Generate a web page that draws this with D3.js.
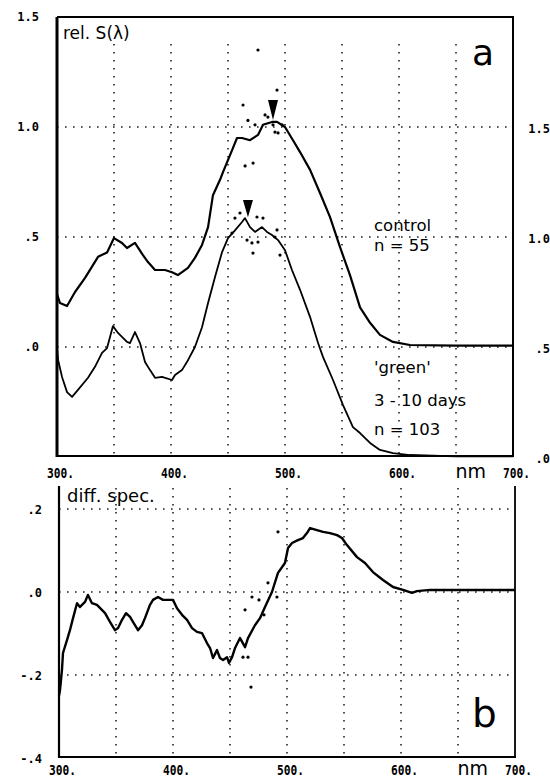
<!DOCTYPE html>
<html>
<head>
<meta charset="utf-8">
<script src="https://cdn.jsdelivr.net/npm/d3@7"></script>
<style>
  html, body { margin: 0; padding: 0; background: #fff; }
  svg { display: block; }
</style>
</head>
<body>
<svg id="chart" width="550" height="778"></svg>
<script>
// ---------------- DATA ----------------
// panel a: control (left axis)
const controlNm = [300,302.6,308.8,315.8,324.6,336,343.9,350,357,361.4,368.4,375.4,379.8,386,394.7,400.9,406,414.9,421,427.2,432.5,436.8,443,445.6,454.4,457.9,462.3,469.3,476.3,480.7,488.6,493,500,507,513.2,522,530.7,539.5,548.2,557,565.8,574.6,583.3,594.7,609.6,650,700];
const controlS  = [0.24,0.20,0.186,0.25,0.314,0.41,0.43,0.495,0.473,0.45,0.473,0.418,0.386,0.35,0.35,0.34,0.327,0.36,0.405,0.464,0.545,0.69,0.76,0.795,0.905,0.95,0.95,0.94,0.964,1.01,1.023,1.023,1.0,0.94,0.886,0.805,0.70,0.59,0.455,0.327,0.18,0.11,0.055,0.023,0.009,0.006,0.006];
// panel a: 'green' (right axis)
const greenNm = [300,301,304.4,308.8,313.2,318.4,327.2,333.3,339.5,343.9,346.5,349.1,353.5,361.4,364,368.4,372.8,377.2,381.6,386,392.1,400.9,403.5,409.6,414.9,421,427.2,432.5,438.6,444.7,450,456.1,462.3,464.9,469.3,473.7,479.8,484.2,488.6,493.9,500,506.1,513.2,522,529,533.3,542.1,550.9,559.6,565.8,574.6,583.3,594.7,609.6,650,700];
const greenS  = [0.49,0.44,0.364,0.295,0.273,0.305,0.36,0.41,0.473,0.495,0.545,0.595,0.564,0.523,0.518,0.568,0.518,0.432,0.395,0.36,0.364,0.35,0.373,0.395,0.44,0.5,0.59,0.70,0.818,0.93,0.995,1.03,1.068,1.086,1.045,1.023,1.045,1.023,1.009,0.986,0.94,0.85,0.76,0.636,0.518,0.455,0.35,0.236,0.136,0.109,0.064,0.032,0.018,0.009,0.003,0.003];
// scattered single points
const controlDotNm = [476.3,493,463.2,467.5,473.7,482.5,485,489.5,491.2,493.9,497.4,465,472];
const controlDotS  = [1.35,1.168,1.10,1.03,1.01,1.055,1.045,1.01,0.977,0.973,1.01,0.823,0.836];
const greenDotNm = [460.5,456.1,453.5,475.4,480.7,466.7,471,471.9,476.3,493,495.6,491.2];
const greenDotS  = [1.109,1.086,1.018,1.091,1.086,0.986,0.973,0.927,0.977,1.032,0.918,1.0];
// arrows marking maxima
const arrowNm   = [489.5, 467.5];
const arrowTipS = [1.032, 1.09];
const arrowTopS = [1.123, 1.168];
const arrowAxis = ["left", "right"];

// panel b: difference spectrum
const diffNm = [300,300.9,302.6,303.5,307,309.6,312.3,315.8,318.4,322.8,325.4,328.9,333.3,340.4,344.7,349.1,351.8,355.3,358.8,362.3,364.9,369.3,372.8,375.4,379.8,382.5,386.8,391.2,395.6,400,403.5,407.9,412.3,416.7,421,425.4,429.8,432.5,435.1,438.6,441.2,443.9,447.4,449.1,451.8,454.4,458.8,463.2,465.8,471.9,476.3,480.7,486.8,492.1,498.2,500.9,504.4,509.6,514,517.5,520.2,526.3,531.6,537.7,543.9,548.2,552.6,561.4,568.4,575.4,584.2,593,601.8,609.6,614,625.4,700];
const diffS  = [-0.25,-0.236,-0.188,-0.147,-0.116,-0.092,-0.063,-0.027,-0.036,-0.024,-0.007,-0.027,-0.031,-0.051,-0.072,-0.092,-0.087,-0.067,-0.051,-0.06,-0.072,-0.092,-0.08,-0.063,-0.031,-0.019,-0.012,-0.019,-0.019,-0.019,-0.039,-0.055,-0.067,-0.087,-0.096,-0.099,-0.123,-0.135,-0.159,-0.14,-0.159,-0.164,-0.157,-0.171,-0.157,-0.135,-0.111,-0.133,-0.111,-0.08,-0.063,-0.036,0,0.046,0.07,0.106,0.118,0.125,0.13,0.142,0.154,0.149,0.145,0.142,0.137,0.13,0.113,0.084,0.07,0.048,0.029,0.012,0.005,-0.002,0.002,0.005,0.005];
const diffDotNm = [463.2,461.4,465.8,468.4,469.3,475.4,479.8,483.3,491.2,492.1];
const diffDotS  = [-0.043,-0.157,-0.157,-0.229,-0.012,-0.019,-0.055,0.022,-0.012,0.145];

// ticks and gridlines
const xTickValues = [300,400,500,600,700];
const xTickLabels = ["300.","400.","500.","600.","700."];
const leftTickValues = [1.5,1.0,0.5,0.0];
const leftTickLabels = ["1.5","1.0",".5",".0"];
const rightTickValues = [1.5,1.0,0.5,0.0];
const rightTickLabels = ["1.5","1.0",".5",".0"];
const diffTickValues = [0.2,0.0,-0.2,-0.4];
const diffTickLabels = [".2",".0","-.2","-.4"];
const gridNm = [350,400,450,500,550,600,650];
const topGridS = [1.0,0.5,0.0];
const diffGridS = [0.2,0.0,-0.2];

// ---------------- DRAW ----------------
const svg = d3.select("#chart");
const txtFont = "'DejaVu Sans', sans-serif";
const numFont = "'DejaVu Sans Mono', monospace";

// scales panel a
const xA = d3.scaleLinear().domain([300,700]).range([57,513]);
const yL = d3.scaleLinear().domain([-0.5,1.5]).range([457,17]);
const yR = d3.scaleLinear().domain([0,2]).range([457,17]);
// scales panel b
const xB = d3.scaleLinear().domain([300,700]).range([59,515]);
const yB = d3.scaleLinear().domain([-0.4,0.2]).range([758,509]);

const dot = {stroke:"#222", "stroke-width":1.6, "stroke-dasharray":"1.6,6.4"};
function applyAttrs(sel, o){ for (const k in o) sel.attr(k,o[k]); return sel; }

// ---- panel a gridlines
const gA = svg.append("g");
applyAttrs(gA.selectAll("line.v").data(gridNm).join("line")
  .attr("x1", d=>xA(d)).attr("x2", d=>xA(d)).attr("y1", 44).attr("y2", yL(-0.5)), dot);
applyAttrs(gA.selectAll("line.h").data(topGridS).join("line").attr("class","h")
  .attr("x1", xA(300)).attr("x2", xA(700)).attr("y1", d=>yL(d)).attr("y2", d=>yL(d)), dot);

// frame panel a
gA.append("line").attr("x1",xA(300)).attr("x2",xA(300)).attr("y1",yL(1.5)).attr("y2",yL(-0.5)).attr("stroke","#000").attr("stroke-width",3);
gA.append("line").attr("x1",xA(300)).attr("x2",xA(700)+1).attr("y1",yL(1.5)).attr("y2",yL(1.5)).attr("stroke","#000").attr("stroke-width",2);
gA.append("line").attr("x1",xA(700)).attr("x2",xA(700)).attr("y1",yL(1.5)).attr("y2",yL(-0.5)).attr("stroke","#000").attr("stroke-width",2);
gA.append("line").attr("x1",xA(300)).attr("x2",xA(700)+1).attr("y1",yL(-0.5)-1).attr("y2",yL(-0.5)-1).attr("stroke","#000").attr("stroke-width",2.2);

// curves panel a
const lineCtrl = d3.line().x((d,i)=>xA(controlNm[i])).y(d=>yL(d));
gA.append("path").attr("d", lineCtrl(controlS)).attr("fill","none").attr("stroke","#000").attr("stroke-width",2.2).attr("stroke-linejoin","round");
const lineGreen = d3.line().x((d,i)=>xA(greenNm[i])).y(d=>yR(d));
gA.append("path").attr("d", lineGreen(greenS)).attr("fill","none").attr("stroke","#000").attr("stroke-width",1.8).attr("stroke-linejoin","round");

gA.selectAll("circle.c").data(controlDotS).join("circle").attr("class","c")
  .attr("cx",(d,i)=>xA(controlDotNm[i])).attr("cy",d=>yL(d)).attr("r",1.6).attr("fill","#000");
gA.selectAll("circle.g").data(greenDotS).join("circle").attr("class","g")
  .attr("cx",(d,i)=>xA(greenDotNm[i])).attr("cy",d=>yR(d)).attr("r",1.6).attr("fill","#000");

// arrows
gA.selectAll("path.arrow").data(arrowNm).join("path").attr("class","arrow")
  .attr("d",(d,i)=>{
    const ys = arrowAxis[i]==="left" ? yL : yR;
    const x = xA(d), yt = ys(arrowTipS[i]), y0 = ys(arrowTopS[i]);
    return `M${x-5},${y0} L${x+5},${y0} L${x},${yt} Z`;
  }).attr("fill","#000");

// axes labels panel a
const axL = d3.axisLeft(yL).tickValues(leftTickValues).tickFormat((d,i)=>leftTickLabels[i]).tickSize(0).tickPadding(0);
const gL = svg.append("g").attr("transform","translate(39,0)").call(axL);
gL.select(".domain").remove();
gL.selectAll("text").attr("font-family",numFont).attr("font-weight","bold").attr("font-size",12).attr("fill","#000");

const axR = d3.axisLeft(yR).tickValues(rightTickValues).tickFormat((d,i)=>rightTickLabels[i]).tickSize(0).tickPadding(0);
const gR = svg.append("g").attr("transform","translate(550,2)").call(axR);
gR.select(".domain").remove();
gR.selectAll("text").attr("font-family",numFont).attr("font-weight","bold").attr("font-size",12).attr("fill","#000");

function xAxis(scale, y){
  const ax = d3.axisBottom(scale).tickValues(xTickValues).tickFormat((d,i)=>xTickLabels[i]).tickSize(0).tickPadding(0);
  const g = svg.append("g").attr("transform",`translate(0,${y})`).call(ax);
  g.select(".domain").remove();
  g.selectAll("text").attr("y",0).attr("dy",0).attr("dx",3)
    .attr("font-family",numFont).attr("font-weight","bold").attr("font-size",14).attr("fill","#000")
    .attr("textLength",27).attr("lengthAdjust","spacingAndGlyphs");
  svg.append("text").attr("x",scale(663)).attr("y",y).attr("text-anchor","middle")
    .attr("font-family",txtFont).attr("font-size",19).attr("fill","#000").text("nm");
}
xAxis(xA, 478);

// annotations panel a
svg.append("text").attr("x",63).attr("y",39).attr("font-family",txtFont).attr("font-size",17).text("rel. S(λ)");
svg.append("text").attr("x",472).attr("y",65).attr("font-family",txtFont).attr("font-size",36).text("a");
const ann = [["control",231],["n = 55",251],["'green'",373],["3 - 10 days",406],["n = 103",435]];
svg.selectAll("text.ann").data(ann).join("text").attr("class","ann")
  .attr("x",374).attr("y",d=>d[1]).attr("font-family",txtFont).attr("font-size",16.5).text(d=>d[0]);

// ---- panel b
const gB = svg.append("g");
applyAttrs(gB.selectAll("line.v").data(gridNm).join("line")
  .attr("x1", d=>xB(d)).attr("x2", d=>xB(d)).attr("y1", 488).attr("y2", yB(-0.4)), dot);
applyAttrs(gB.selectAll("line.h").data(diffGridS).join("line").attr("class","h")
  .attr("x1", xB(300)).attr("x2", xB(700)).attr("y1", d=>yB(d)).attr("y2", d=>yB(d)), dot);

gB.append("line").attr("x1",xB(300)).attr("x2",xB(300)).attr("y1",486).attr("y2",yB(-0.4)).attr("stroke","#000").attr("stroke-width",2.2);
gB.append("line").attr("x1",xB(700)).attr("x2",xB(700)).attr("y1",486).attr("y2",yB(-0.4)).attr("stroke","#000").attr("stroke-width",1.8);
gB.append("line").attr("x1",xB(300)).attr("x2",xB(700)+1).attr("y1",yB(-0.4)-1).attr("y2",yB(-0.4)-1).attr("stroke","#000").attr("stroke-width",2);

const lineDiff = d3.line().x((d,i)=>xB(diffNm[i])).y(d=>yB(d));
gB.append("path").attr("d", lineDiff(diffS)).attr("fill","none").attr("stroke","#000").attr("stroke-width",2.4).attr("stroke-linejoin","round");
gB.selectAll("circle.d").data(diffDotS).join("circle").attr("class","d")
  .attr("cx",(d,i)=>xB(diffDotNm[i])).attr("cy",d=>yB(d)).attr("r",1.6).attr("fill","#000");

const axB = d3.axisLeft(yB).tickValues(diffTickValues).tickFormat((d,i)=>diffTickLabels[i]).tickSize(0).tickPadding(0);
const gBL = svg.append("g").attr("transform","translate(42,1)").call(axB);
gBL.select(".domain").remove();
gBL.selectAll("text").attr("font-family",numFont).attr("font-weight","bold").attr("font-size",12).attr("fill","#000");

xAxis(xB, 775);

svg.append("text").attr("x",67).attr("y",502).attr("font-family",txtFont).attr("font-size",18).text("diff. spec.");
svg.append("text").attr("x",472).attr("y",727).attr("font-family",txtFont).attr("font-size",39).text("b");
</script>
</body>
</html>
